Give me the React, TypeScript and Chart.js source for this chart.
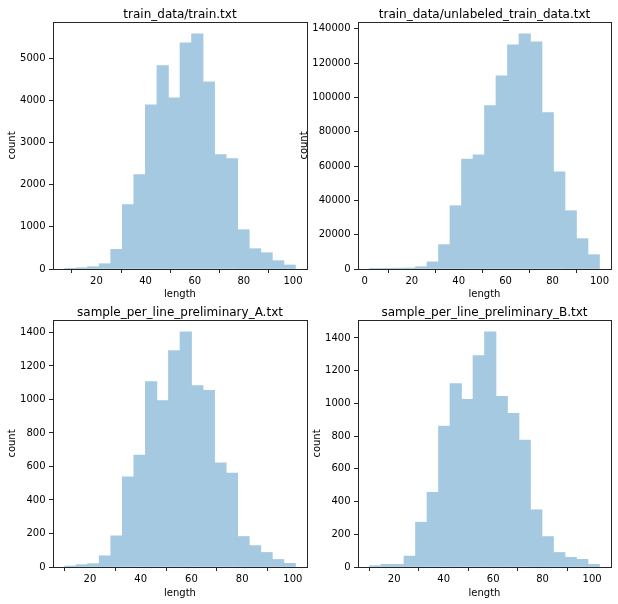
import { useEffect, useRef } from 'react';
import { Chart, registerables } from 'chart.js';

Chart.register(...registerables);

// histogram counts (20 bins each)
const trainTitle = 'train_data/train.txt';
const trainBinStart = 7;
const trainBinWidth = 4.7;
const trainCounts = [3, 30, 55, 125, 466, 1525, 2236, 3895, 4820, 4060, 5364, 5577, 4440, 2710, 2615, 932, 482, 387, 198, 95];
const trainXTicks = [20, 40, 60, 80, 100];
const trainYTicks = [0, 1000, 2000, 3000, 4000, 5000];

const unlabeledTitle = 'train_data/unlabeled_train_data.txt';
const unlabeledBinStart = 2;
const unlabeledBinWidth = 4.9;
const unlabeledCounts = [30, 120, 500, 600, 1350, 4150, 14200, 36900, 64100, 66600, 95200, 112600, 130700, 137100, 132400, 91100, 56700, 34000, 17700, 8350];
const unlabeledXTicks = [0, 20, 40, 60, 80, 100];
const unlabeledYTicks = [0, 20000, 40000, 60000, 80000, 100000, 120000, 140000];

const sampleATitle = 'sample_per_line_preliminary_A.txt';
const sampleABinStart = 10;
const sampleABinWidth = 4.55;
const sampleACounts = [6, 14, 20, 67, 186, 538, 668, 1107, 994, 1291, 1404, 1083, 1054, 621, 561, 182, 128, 87, 45, 22];
const sampleAXTicks = [20, 40, 60, 80, 100];
const sampleAYTicks = [0, 200, 400, 600, 800, 1000, 1200, 1400];

const sampleBTitle = 'sample_per_line_preliminary_B.txt';
const sampleBBinStart = 10;
const sampleBBinWidth = 4.65;
const sampleBCounts = [8, 16, 16, 67, 274, 456, 861, 1122, 1025, 1293, 1438, 1043, 940, 776, 350, 186, 89, 59, 47, 16];
const sampleBXTicks = [20, 40, 60, 80, 100];
const sampleBYTicks = [0, 200, 400, 600, 800, 1000, 1200, 1400];

const FONT = 'DejaVu Sans';
const BAR_COLOR = '#a5c9e1';
const INK = '#262626';

// matplotlib-style box around the plot area
const framePlugin = {
  id: 'frame',
  afterDraw(chart: any) {
    const { ctx, chartArea: a } = chart;
    ctx.save();
    ctx.strokeStyle = INK;
    ctx.lineWidth = 1;
    ctx.strokeRect(a.left + 0.5, a.top + 0.5, a.right - a.left, a.bottom - a.top);
    ctx.restore();
  },
};

type PanelProps = {
  title: string;
  binStart: number;
  binWidth: number;
  counts: number[];
  xTicks: number[];
  yTicks: number[];
  left: number;
  top: number;
  width: number;
  height: number;
  yWidth: number;
  xHeight: number;
  padRight: number;
  titlePad: { top: number; bottom: number };
  yTitlePad: number;
  xTitlePad: number;
};

function HistPanel(p: PanelProps) {
  const canvasEl = useRef<HTMLCanvasElement>(null);

  useEffect(() => {
    const n = p.counts.length;
    const lo = p.binStart;
    const hi = p.binStart + n * p.binWidth;
    const margin = (hi - lo) * 0.05;
    const points = p.counts.map((c, i) => ({ x: lo + (i + 0.5) * p.binWidth, y: c }));

    const chart = new Chart(canvasEl.current as HTMLCanvasElement, {
      type: 'bar',
      data: {
        datasets: [{
          data: points as any,
          backgroundColor: BAR_COLOR,
          borderWidth: 0,
          barPercentage: 1,
          categoryPercentage: 1,
        }],
      },
      options: {
        animation: false,
        responsive: false,
        devicePixelRatio: 1,
        layout: { padding: { left: 0, right: p.padRight, top: 0, bottom: 0 } },
        plugins: {
          legend: { display: false },
          tooltip: { enabled: false },
          title: {
            display: true,
            fullSize: false,
            text: p.title,
            color: '#000',
            font: { family: FONT, size: 12, weight: 'normal' },
            padding: p.titlePad,
          },
        },
        scales: {
          x: {
            type: 'linear',
            min: lo - margin,
            max: hi + margin,
            offset: false,
            grid: { drawOnChartArea: false, drawTicks: true, tickLength: 4, color: INK },
            border: { display: false },
            ticks: {
              color: '#000',
              font: { family: FONT, size: 10 },
              padding: 2.4,
              maxRotation: 0,
              autoSkip: false,
              callback: (v: any) => String(v),
            },
            title: {
              display: true,
              text: 'length',
              color: '#000',
              font: { family: FONT, size: 10 },
              padding: { top: 0, bottom: p.xTitlePad },
            },
            afterBuildTicks: (s: any) => { s.ticks = p.xTicks.map((v) => ({ value: v })); },
            afterFit: (s: any) => { s.height = p.xHeight; },
          },
          y: {
            type: 'linear',
            min: 0,
            max: Math.max(...p.counts) * 1.05,
            grid: { drawOnChartArea: false, drawTicks: true, tickLength: 4, color: INK },
            border: { display: false },
            ticks: {
              color: '#000',
              font: { family: FONT, size: 10 },
              padding: 3.5,
              autoSkip: false,
              callback: (v: any) => String(v),
            },
            title: {
              display: true,
              text: 'count',
              color: '#000',
              font: { family: FONT, size: 10 },
              padding: { top: p.yTitlePad, bottom: 0 },
            },
            afterBuildTicks: (s: any) => { s.ticks = p.yTicks.map((v) => ({ value: v })); },
            afterFit: (s: any) => { s.width = p.yWidth; },
          },
        },
      } as any,
      plugins: [framePlugin],
    });

    return () => {
      chart.destroy();
    };
  }, [p]);

  return (
    <canvas
      ref={canvasEl}
      width={p.width}
      height={p.height}
      style={{ position: 'absolute', left: p.left, top: p.top, width: p.width, height: p.height }}
    />
  );
}

const panels: PanelProps[] = [
  {
    title: trainTitle, binStart: trainBinStart, binWidth: trainBinWidth, counts: trainCounts,
    xTicks: trainXTicks, yTicks: trainYTicks,
    left: 0, top: 0, width: 308, height: 300, yWidth: 53, xHeight: 31, padRight: 1,
    titlePad: { top: 7.5, bottom: 0.1 }, yTitlePad: 6, xTitlePad: 0,
  },
  {
    title: unlabeledTitle, binStart: unlabeledBinStart, binWidth: unlabeledBinWidth, counts: unlabeledCounts,
    xTicks: unlabeledXTicks, yTicks: unlabeledYTicks,
    left: 298, top: 0, width: 320, height: 300, yWidth: 60, xHeight: 31, padRight: 7,
    titlePad: { top: 7.5, bottom: 0.1 }, yTitlePad: 0, xTitlePad: 0,
  },
  {
    title: sampleATitle, binStart: sampleABinStart, binWidth: sampleABinWidth, counts: sampleACounts,
    xTicks: sampleAXTicks, yTicks: sampleAYTicks,
    left: 0, top: 300, width: 308, height: 304, yWidth: 53, xHeight: 37, padRight: 1,
    titlePad: { top: 5.6, bottom: 0 }, yTitlePad: 6, xTitlePad: 5,
  },
  {
    title: sampleBTitle, binStart: sampleBBinStart, binWidth: sampleBBinWidth, counts: sampleBCounts,
    xTicks: sampleBXTicks, yTicks: sampleBYTicks,
    left: 311, top: 300, width: 307, height: 304, yWidth: 47, xHeight: 37, padRight: 7,
    titlePad: { top: 5.6, bottom: 0 }, yTitlePad: 0, xTitlePad: 5,
  },
];

export default function App() {
  return (
    <div style={{ position: 'fixed', left: 0, top: 0, width: 618, height: 604, background: '#fff' }}>
      {panels.map((p) => <HistPanel key={p.title} {...p} />)}
    </div>
  );
}
